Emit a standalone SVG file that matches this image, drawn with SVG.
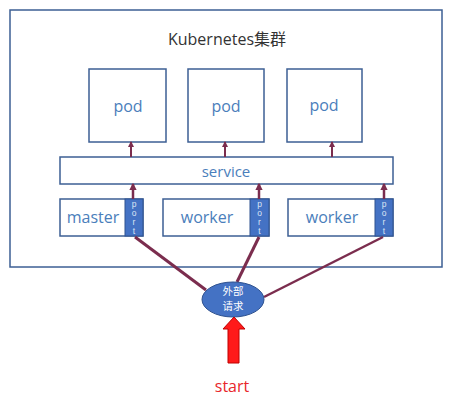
<svg xmlns="http://www.w3.org/2000/svg" width="452" height="404" viewBox="0 0 452 404">
<defs>
<style>
.box{fill:#fff;stroke:#3d5f94;stroke-width:1.5}
.lbl{font-family:"Open Sans","Liberation Sans",sans-serif;fill:#4a7ebb;text-anchor:middle}
.port{fill:#4472c4;stroke:#2f528f;stroke-width:1}
.pt{font-family:"Liberation Sans",sans-serif;font-size:8.5px;fill:#dce6f5;text-anchor:middle}
.conn{stroke:#7b2d4e;fill:none}
.cjk{font-family:"Noto Sans CJK SC",sans-serif;font-size:10.5px;fill:#fff;text-anchor:middle}
</style>
<marker id="ah" viewBox="0 0 6 6" refX="5" refY="3" markerWidth="3" markerHeight="3" orient="auto">
<path d="M0,0 L6,3 L0,6 z" fill="#7b2d4e"/>
</marker>
</defs>
<rect width="452" height="404" fill="#fff"/>
<g id="cluster">
<rect x="10" y="10" width="432" height="257" class="box"/>
<text x="227" y="45" font-family="'Open Sans','Liberation Sans','Noto Sans CJK SC',sans-serif" font-size="16" fill="#333" text-anchor="middle">Kubernetes集群</text>
</g>
<g id="pod1"><rect x="89" y="69" width="77" height="73" class="box"/><text x="128" y="112" class="lbl" font-size="16">pod</text></g>
<g id="pod2"><rect x="188" y="69" width="76" height="73" class="box"/><text x="226" y="112" class="lbl" font-size="16">pod</text></g>
<g id="pod3"><rect x="287" y="69" width="75" height="73" class="box"/><text x="324" y="111" class="lbl" font-size="16">pod</text></g>
<g id="service"><rect x="60" y="157" width="333" height="27" class="box"/><text x="226" y="177" class="lbl" font-size="15">service</text></g>
<g id="master">
<rect x="60" y="199" width="83" height="37" class="box"/>
<text x="93" y="223" class="lbl" font-size="16">master</text>
<rect x="125" y="199" width="18" height="37" class="port"/>
<text class="pt"><tspan x="134" y="207">p</tspan><tspan x="134" y="216">o</tspan><tspan x="134" y="225">r</tspan><tspan x="134" y="234">t</tspan></text>
</g>
<g id="worker1">
<rect x="163" y="199" width="106" height="37" class="box"/>
<text x="207" y="223" class="lbl" font-size="16">worker</text>
<rect x="250" y="199" width="19" height="37" class="port"/>
<text class="pt"><tspan x="259.5" y="207">p</tspan><tspan x="259.5" y="216">o</tspan><tspan x="259.5" y="225">r</tspan><tspan x="259.5" y="234">t</tspan></text>
</g>
<g id="worker2">
<rect x="288" y="199" width="105" height="37" class="box"/>
<text x="332" y="223" class="lbl" font-size="16">worker</text>
<rect x="375" y="199" width="18" height="37" class="port"/>
<text class="pt"><tspan x="384" y="207">p</tspan><tspan x="384" y="216">o</tspan><tspan x="384" y="225">r</tspan><tspan x="384" y="234">t</tspan></text>
</g>
<g id="connectors">
<line x1="131" y1="157" x2="131" y2="142" class="conn" stroke-width="2" marker-end="url(#ah)"/>
<line x1="225" y1="157" x2="225" y2="142" class="conn" stroke-width="2" marker-end="url(#ah)"/>
<line x1="332" y1="157" x2="332" y2="142" class="conn" stroke-width="2" marker-end="url(#ah)"/>
<line x1="133" y1="199" x2="133" y2="184" class="conn" stroke-width="2.5" marker-end="url(#ah)"/>
<line x1="259" y1="199" x2="259" y2="184" class="conn" stroke-width="2.5" marker-end="url(#ah)"/>
<line x1="384" y1="199" x2="384" y2="184" class="conn" stroke-width="2.5" marker-end="url(#ah)"/>
<line x1="206" y1="290" x2="135" y2="237" class="conn" stroke-width="3"/>
<line x1="237" y1="282" x2="259" y2="237" class="conn" stroke-width="3"/>
<line x1="264" y1="297" x2="383" y2="237" class="conn" stroke-width="2.5"/>
</g>
<g id="request">
<ellipse cx="233" cy="299.5" rx="31" ry="17.5" fill="#4472c4" stroke="#2f528f" stroke-width="1"/>
<text x="233" y="295" class="cjk">外部</text>
<text x="233" y="310" class="cjk">请求</text>
</g>
<g id="start">
<path d="M228,363 L228,329 L223,329 L234,317 L245,329 L239,329 L239,363 z" fill="#ff1a1a" stroke="#c00000" stroke-width="1"/>
<text x="232" y="392" font-family="'Open Sans','Liberation Sans',sans-serif" font-size="16" fill="#e8262b" text-anchor="middle">start</text>
</g>
</svg>
